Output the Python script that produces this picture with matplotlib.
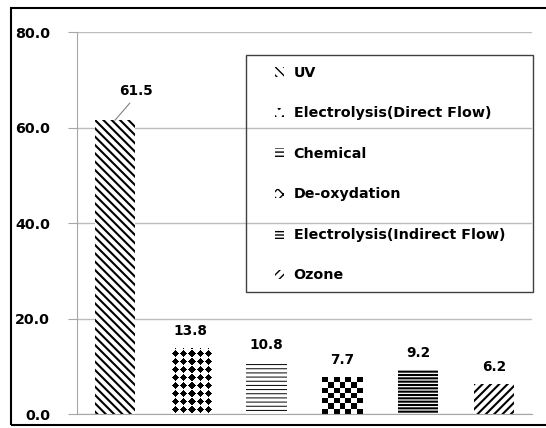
import numpy as np
import matplotlib
matplotlib.use("Agg")
import matplotlib.pyplot as plt
from matplotlib.patches import Rectangle

# values
methods = ["UV", "Electrolysis(Direct Flow)", "Chemical", "De-oxydation",
           "Electrolysis(Indirect Flow)", "Ozone"]
values = [61.5, 13.8, 10.8, 7.7, 9.2, 6.2]
hatches = ["\\\\\\\\", "..", "----", "xxx", "-----", "////"]
hatch_lw = [1.5, 1.0, 0.7, 1.0, 1.5, 1.5]
y_ticks = [0, 20, 40, 60, 80]

plt.rcParams["font.family"] = ["DejaVu Sans"]
plt.rcParams["font.weight"] = "bold"

fig = plt.figure(figsize=(5.46, 4.28), dpi=100)
ax = fig.add_axes([77 / 546, 1 - 414 / 428, 455 / 546, 382 / 428])

x = np.arange(len(values))
bars = []
for i, (v, h, lw) in enumerate(zip(values, hatches, hatch_lw)):
    with plt.rc_context({"hatch.linewidth": lw}):
        b = ax.bar(x[i], v, width=0.53, color="white", edgecolor="black",
                   linewidth=0, hatch=h, label=methods[i], zorder=3)
    bars.append(b[0])

ax.set_xlim(-0.5, len(values) - 0.5)
ax.set_ylim(0, 80)
fig.canvas.draw()


def bar_pixels(p):
    a = ax.transData.transform((p.get_x(), 0))
    b = ax.transData.transform((p.get_x() + p.get_width(), p.get_height()))
    return int(round(b[0] - a[0])), int(round(b[1] - a[1]))


def paint(p, img):
    # lay a pixel pattern over a bar, extent taken from the bar itself
    ax.imshow(img, cmap="gray", extent=(p.get_x(), p.get_x() + p.get_width(), 0, p.get_height()),
              aspect="auto", interpolation="nearest", zorder=4)


# diamond lattice for Electrolysis(Direct Flow)
wpx, hpx = bar_pixels(bars[1])
rr, cc = np.indices((hpx, wpx))
dx = (cc % 8) - 4
dy = ((hpx - 1 - rr) % 8) - 4
diamond = (np.abs(dx) + np.abs(dy) <= 3) | ((dx == 0) & (rr % 2 == 0))
paint(bars[1], np.where(diamond, 0.0, 1.0))

# checkerboard for De-oxydation
wpx, hpx = bar_pixels(bars[3])
ncol = max(1, int(round(wpx / 5.4)))
nrow = max(1, int(round(hpx / 5.2)))
checker = (np.indices((nrow, ncol)).sum(axis=0) % 2).astype(float)
paint(bars[3], checker)

ax.set_xlim(-0.5, len(values) - 0.5)
ax.set_ylim(0, 80)

ax.set_yticks(y_ticks)
ax.set_yticklabels([f"{t:.1f}" for t in y_ticks], fontsize=10.3, fontweight="bold")
ax.set_xticks([])
ax.yaxis.grid(True, color="#bdbdbd", linewidth=1, zorder=0)
ax.tick_params(axis="y", length=6.5, color="#a6a6a6", pad=13)
for s in ["top", "right"]:
    ax.spines[s].set_visible(False)
for s in ["left", "bottom"]:
    ax.spines[s].set_color("#a6a6a6")
    ax.spines[s].set_zorder(5)

# value labels
for i, v in enumerate(values):
    if i == 0:
        ax.annotate(f"{v:.1f}", (x[i], v), xytext=(15, 21), textcoords="offset points",
                    ha="center", va="center", fontsize=9.8, fontweight="bold",
                    arrowprops=dict(arrowstyle="-", color="#808080", lw=0.8,
                                    shrinkA=2, shrinkB=0, relpos=(0.45, 0)))
    else:
        ax.annotate(f"{v:.1f}", (x[i], v), xytext=(0, 12.5), textcoords="offset points",
                    ha="center", va="center", fontsize=9.8, fontweight="bold")

leg = fig.legend(handles=bars, labels=methods, loc="upper left",
                 bbox_to_anchor=(275 / 546, 1 - 66 / 428), frameon=False,
                 borderpad=0, borderaxespad=0, handlelength=0.65, handleheight=0.65,
                 handletextpad=0.65, labelspacing=1.85, prop={"size": 10.3, "weight": "bold"})

# legend box and outer border (border runs off the right edge, as in the reference)
fig.patches.append(Rectangle((246 / 546, 1 - 292 / 428), 287 / 546, 237 / 428,
                             transform=fig.transFigure, fill=False,
                             edgecolor="#404040", linewidth=1, zorder=6))
fig.patches.append(Rectangle((11 / 546, 1 - 425 / 428), 560 / 546, 417 / 428,
                             transform=fig.transFigure, fill=False,
                             edgecolor="black", linewidth=1.5, zorder=6))

fig.savefig("out.png", dpi=100)
